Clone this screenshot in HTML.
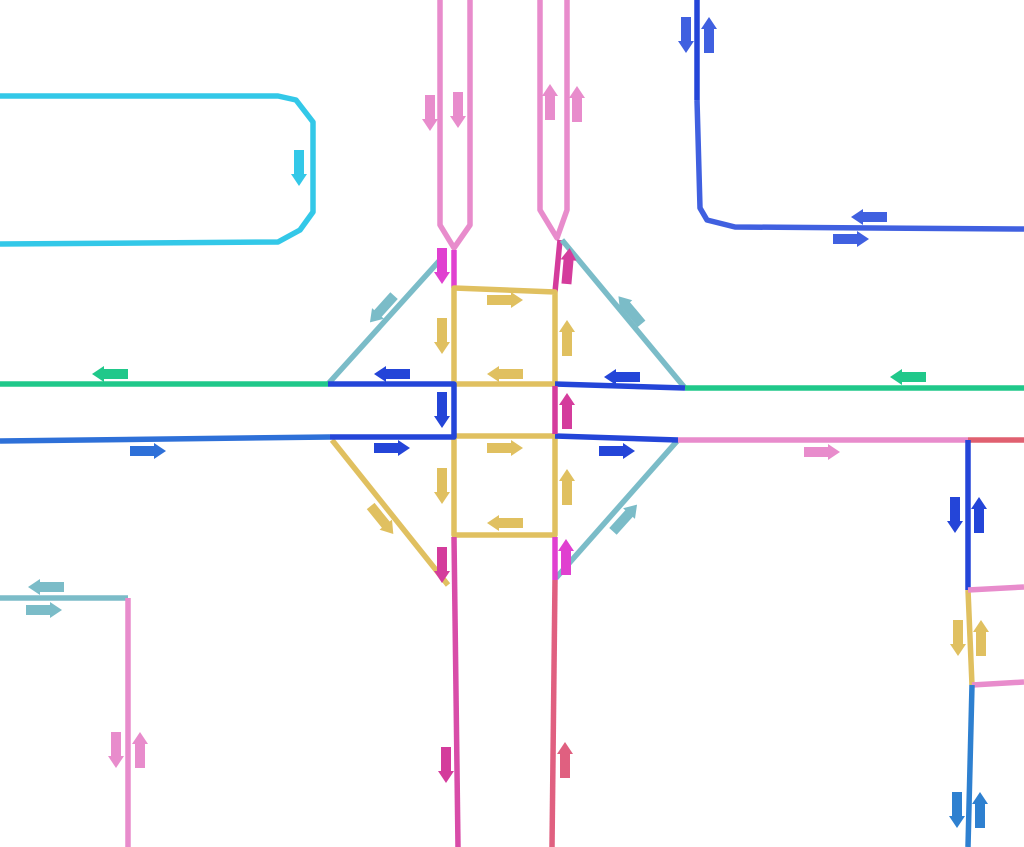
<!DOCTYPE html>
<html><head><meta charset="utf-8"><style>html,body{margin:0;padding:0;background:#fff}svg{display:block}</style></head>
<body>
<svg width="1024" height="847" viewBox="0 0 1024 847" xmlns="http://www.w3.org/2000/svg">
<defs>
<polygon id="a" points="-18,-5 6,-5 6,-8 18,0 6,8 6,5 -18,5"/>
</defs>
<g fill="none" stroke-width="5.5" stroke-linejoin="round">
<path d="M0,96 L278,96 L296,100 L313,122 L313,212 L300,230 L278,242 L0,244" stroke="#33c8e8"/>
<path d="M440,0 L440,225 L454,248 L470,225 L470,0" stroke="#e88ccc"/>
<path d="M540,0 L540,210 L557,238 L567,210 L567,0" stroke="#e88ccc"/>
<path d="M697,0 L697,100" stroke="#2445d8"/>
<path d="M697,100 L700,208 L707,220 L735,227 L1024,229" stroke="#4060e0"/>
<path d="M454,250 L454,288" stroke="#e040d0"/>
<path d="M560,240 L555,292" stroke="#d43c9c"/>
<path d="M440,260 L328,384" stroke="#7bbcc8"/>
<path d="M562,240 L685,388" stroke="#7bbcc8"/>
<path d="M678,440 L556,578" stroke="#7bbcc8"/>
<path d="M332,440 L448,585" stroke="#e0c060"/>
<path d="M454,288 L555,292 L555,384 L454,384 Z" stroke="#e0c060"/>
<path d="M454,436 L555,436 L555,535 L454,535 Z" stroke="#e0c060"/>
<path d="M0,384 L328,384" stroke="#20c88a"/>
<path d="M685,388 L1024,388" stroke="#20c88a"/>
<path d="M328,384 L454,384 L454,437 L330,437" stroke="#2445d8"/>
<path d="M555,384 L685,388" stroke="#2445d8"/>
<path d="M555,436 L678,440" stroke="#2445d8"/>
<path d="M0,441 L330,437" stroke="#2e70d8"/>
<path d="M555,386 L555,434" stroke="#d43c9c"/>
<path d="M678,440 L968,440" stroke="#e88ccc"/>
<path d="M968,440 L1024,440" stroke="#e06070"/>
<path d="M454,537 L458,847" stroke="#d84ca8"/>
<path d="M555,537 L555,580" stroke="#e040d0"/>
<path d="M555,580 L552,847" stroke="#e06080"/>
<path d="M968,440 L968,590" stroke="#2445d8"/>
<path d="M968,590 L972,685" stroke="#e0c060"/>
<path d="M968,590 L1024,587" stroke="#e88ccc"/>
<path d="M972,685 L1024,682" stroke="#e88ccc"/>
<path d="M972,685 L968,847" stroke="#2e80d0"/>
<path d="M0,598 L128,598" stroke="#7bbcc8"/>
<path d="M128,598 L128,847" stroke="#e88ccc"/>
</g>
<g fill="#33c8e8"><use href="#a" transform="translate(299,168) rotate(90)"/></g>
<g fill="#e88ccc">
<use href="#a" transform="translate(430,113) rotate(90)"/>
<use href="#a" transform="translate(458,110) rotate(90)"/>
<use href="#a" transform="translate(550,102) rotate(-90)"/>
<use href="#a" transform="translate(577,104) rotate(-90)"/>
<use href="#a" transform="translate(822,452)"/>
<use href="#a" transform="translate(116,750) rotate(90)"/>
<use href="#a" transform="translate(140,750) rotate(-90)"/>
</g>
<g fill="#4060e0">
<use href="#a" transform="translate(686,35) rotate(90)"/>
<use href="#a" transform="translate(709,35) rotate(-90)"/>
<use href="#a" transform="translate(869,217) rotate(180)"/>
<use href="#a" transform="translate(851,239)"/>
</g>
<g fill="#e040d0">
<use href="#a" transform="translate(442,266) rotate(90)"/>
<use href="#a" transform="translate(566,557) rotate(-90)"/>
</g>
<g fill="#d43c9c">
<use href="#a" transform="translate(568,266) rotate(-85)"/>
<use href="#a" transform="translate(567,411) rotate(-90)"/>
<use href="#a" transform="translate(442,565) rotate(90)"/>
<use href="#a" transform="translate(446,765) rotate(90)"/>
</g>
<g fill="#e06080"><use href="#a" transform="translate(565,760) rotate(-90)"/></g>
<g fill="#e0c060">
<use href="#a" transform="translate(505,300)"/>
<use href="#a" transform="translate(442,336) rotate(90)"/>
<use href="#a" transform="translate(567,338) rotate(-90)"/>
<use href="#a" transform="translate(505,374) rotate(180)"/>
<use href="#a" transform="translate(505,448)"/>
<use href="#a" transform="translate(442,486) rotate(90)"/>
<use href="#a" transform="translate(567,487) rotate(-90)"/>
<use href="#a" transform="translate(505,523) rotate(180)"/>
<use href="#a" transform="translate(382,520) rotate(51)"/>
<use href="#a" transform="translate(958,638) rotate(90)"/>
<use href="#a" transform="translate(981,638) rotate(-90)"/>
</g>
<g fill="#7bbcc8">
<use href="#a" transform="translate(382,309) rotate(132)"/>
<use href="#a" transform="translate(630,310) rotate(-130)"/>
<use href="#a" transform="translate(625,518) rotate(-48)"/>
<use href="#a" transform="translate(46,587) rotate(180)"/>
<use href="#a" transform="translate(44,610)"/>
</g>
<g fill="#20c88a">
<use href="#a" transform="translate(110,374) rotate(180)"/>
<use href="#a" transform="translate(908,377) rotate(180)"/>
</g>
<g fill="#2445d8">
<use href="#a" transform="translate(392,374) rotate(180)"/>
<use href="#a" transform="translate(442,410) rotate(90)"/>
<use href="#a" transform="translate(392,448)"/>
<use href="#a" transform="translate(622,377) rotate(180)"/>
<use href="#a" transform="translate(617,451)"/>
<use href="#a" transform="translate(955,515) rotate(90)"/>
<use href="#a" transform="translate(979,515) rotate(-90)"/>
</g>
<g fill="#2e70d8"><use href="#a" transform="translate(148,451)"/></g>
<g fill="#2e80d0">
<use href="#a" transform="translate(957,810) rotate(90)"/>
<use href="#a" transform="translate(980,810) rotate(-90)"/>
</g>
</svg>
</body></html>
